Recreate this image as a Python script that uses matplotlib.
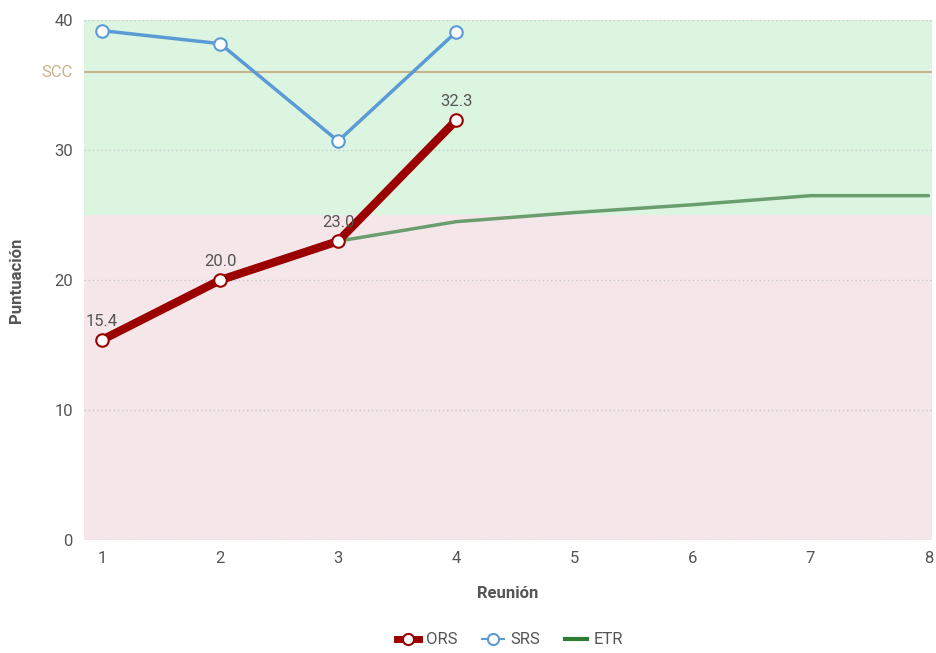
import matplotlib
matplotlib.use("Agg")
import matplotlib.pyplot as plt
from matplotlib.lines import Line2D

plt.rcParams['font.family'] = ['Roboto', 'DejaVu Sans']

reuniones = [1, 2, 3, 4, 5, 6, 7, 8]
ors_x = [1, 2, 3, 4]
ors = [15.4, 20.0, 23.0, 32.3]
srs_x = [1, 2, 3, 4]
srs = [39.2, 38.2, 30.7, 39.1]
etr_x = [3, 4, 5, 6, 7, 8]
etr = [23.0, 24.5, 25.2, 25.8, 26.5, 26.5]
scc = 36.0
zone_cut = 25
y_ticks = [0, 10, 20, 30, 40]

fig = plt.figure(figsize=(9.36, 6.53), dpi=100)
ax = fig.add_axes([0.0897, 0.173, 0.906, 0.796])
ax.set_xlim(0.847, 8.03)
ax.set_ylim(0, 40)

ax.axhspan(0, zone_cut, color='#f5e6ea', zorder=0, lw=0)
ax.axhspan(zone_cut, 40, color='#dcf5e1', zorder=0, lw=0)
for t in y_ticks:
    ax.axhline(t, color='#c8c8c8', lw=1, ls=(0, (1, 2)), zorder=1)
ax.axhline(scc, color='#c8b48c', lw=1.5, zorder=2)

ax.plot(etr_x, etr, color='#6b9e6f', lw=2.5, zorder=3, solid_capstyle='round')
ax.plot(srs_x, srs, color='#5b9bd5', lw=2.5, marker='o', ms=9,
        mfc='white', mec='#5b9bd5', mew=1.5, zorder=4)
ax.plot(ors_x, ors, color='#9b0000', lw=6, marker='o', ms=9,
        mfc='white', mec='#9b0000', mew=1.5, zorder=5, solid_capstyle='round')
for x, v in zip(ors_x, ors):
    ax.annotate(f"{v:.1f}", (x, v), xytext=(0, 8), textcoords='offset points',
                ha='center', va='bottom', fontsize=12, color='#555555', zorder=6)

for s in ax.spines.values():
    s.set_visible(False)
ax.set_xticks(reuniones)
ax.set_yticks(y_ticks)
ax.tick_params(length=0, colors='#555555', labelsize=12, pad=8)
ax.annotate('SCC', xy=(0, scc), xycoords=('axes fraction', 'data'),
            xytext=(-8, 0), textcoords='offset points', ha='right', va='center',
            color='#c8b48c', fontsize=12)

ax.set_xlabel('Reunión', fontsize=12, fontweight='bold', color='#555555', labelpad=14)
ax.set_ylabel('Puntuación', fontsize=12, fontweight='bold', color='#555555', labelpad=22)

handles = [
    Line2D([], [], color='#9b0000', lw=5, marker='o', ms=8, mfc='white', mec='#9b0000', mew=1.5),
    Line2D([], [], color='#5b9bd5', lw=1.5, marker='o', ms=8, mfc='white', mec='#5b9bd5', mew=1.5),
    Line2D([], [], color='#2e7d32', lw=3),
]
leg = fig.legend(handles, ['ORS', 'SRS', 'ETR'], loc='center', bbox_to_anchor=(0.545, 0.02),
                 ncol=3, frameon=False, fontsize=12, handlelength=1.3, columnspacing=1.5,
                 handletextpad=0.4)
for t in leg.get_texts():
    t.set_color('#555555')

fig.savefig('out.png', dpi=100)
